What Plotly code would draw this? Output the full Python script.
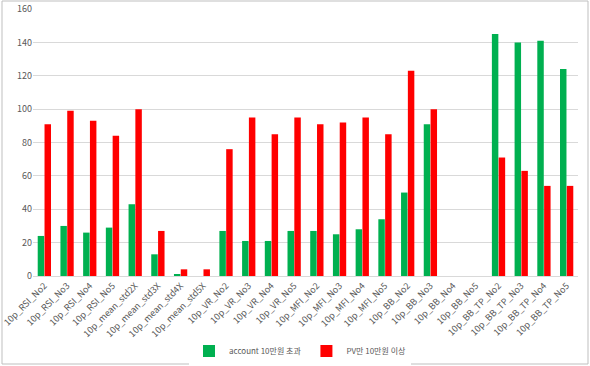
import plotly.graph_objects as go

categories = [
    "10p_RSI_No2", "10p_RSI_No3", "10p_RSI_No4", "10p_RSI_No5",
    "10p_mean_std2X", "10p_mean_std3X", "10p_mean_std4X", "10p_mean_std5X",
    "10p_VR_No2", "10p_VR_No3", "10p_VR_No4", "10p_VR_No5",
    "10p_MFI_No2", "10p_MFI_No3", "10p_MFI_No4", "10p_MFI_No5",
    "10p_BB_No2", "10p_BB_No3", "10p_BB_No4", "10p_BB_No5",
    "10p_BB_TP_No2", "10p_BB_TP_No3", "10p_BB_TP_No4", "10p_BB_TP_No5",
]
account_vals = [24, 30, 26, 29, 43, 13, 1, 0, 27, 21, 21, 27,
                27, 25, 28, 34, 50, 91, 0, 0, 145, 140, 141, 124]
pv_vals = [91, 99, 93, 84, 100, 27, 4, 4, 76, 95, 85, 95,
           91, 92, 95, 85, 123, 100, 0, 0, 71, 63, 54, 54]
series_names = ["account 10만원 초과", "PV만 10만원 이상"]
series_colors = ["#00B050", "#FF0000"]
y_ticks = [0, 20, 40, 60, 80, 100, 120, 140, 160]

FONT = "Noto Sans CJK KR, Liberation Sans, sans-serif"

fig = go.Figure()
for vals, name, color in zip([account_vals, pv_vals], series_names, series_colors):
    fig.add_trace(go.Bar(x=categories, y=vals, name=name, showlegend=False,
                         marker=dict(color=color, line=dict(width=0))))
# legend entries with small square swatches
for name, color in zip(series_names, series_colors):
    fig.add_trace(go.Scatter(x=[None], y=[None], mode="markers", name=name,
                             marker=dict(symbol="square", size=7, color=color)))

L, R, T, B = 33, 12, 9, 90
W, H = 590, 366
pw, ph = W - L - R, H - T - B

def px_x(p):
    return (p - L) / pw

def px_y(p):
    return (H - B - p) / ph

fig.update_layout(
    width=W, height=H,
    margin=dict(l=L, r=R, t=T, b=B, autoexpand=False),
    paper_bgcolor="white", plot_bgcolor="white",
    barmode="group", bargap=0.4, bargroupgap=0.05,
    font=dict(family=FONT, color="#595959", size=9),
    showlegend=True,
    legend=dict(orientation="h", x=px_x(300), xanchor="center",
                y=px_y(351), yanchor="middle",
                font=dict(size=8, color="#595959"),
                itemwidth=30, traceorder="normal", itemsizing="constant",
                tracegroupgap=0),
    xaxis=dict(tickangle=-45, showgrid=False, showline=True, automargin=False,
               linecolor="#d9d9d9", linewidth=1, ticks="", ticklen=0,
               tickfont=dict(size=9, color="#595959")),
    yaxis=dict(range=[0, 160], tickvals=y_ticks, showgrid=True, automargin=False,
               gridcolor="#d9d9d9", gridwidth=1, zeroline=False,
               showline=False, ticks="", tickfont=dict(size=9, color="#595959")),
    shapes=[dict(type="rect", xref="paper", yref="paper",
                 x0=px_x(2), x1=px_x(588), y0=px_y(364), y1=px_y(1),
                 line=dict(color="#bfbfbf", width=1), fillcolor="rgba(0,0,0,0)",
                 layer="below")],
)

fig.write_html("out.html", config={"displayModeBar": False},
               post_script="document.body.style.margin='0';document.body.style.padding='0';")
